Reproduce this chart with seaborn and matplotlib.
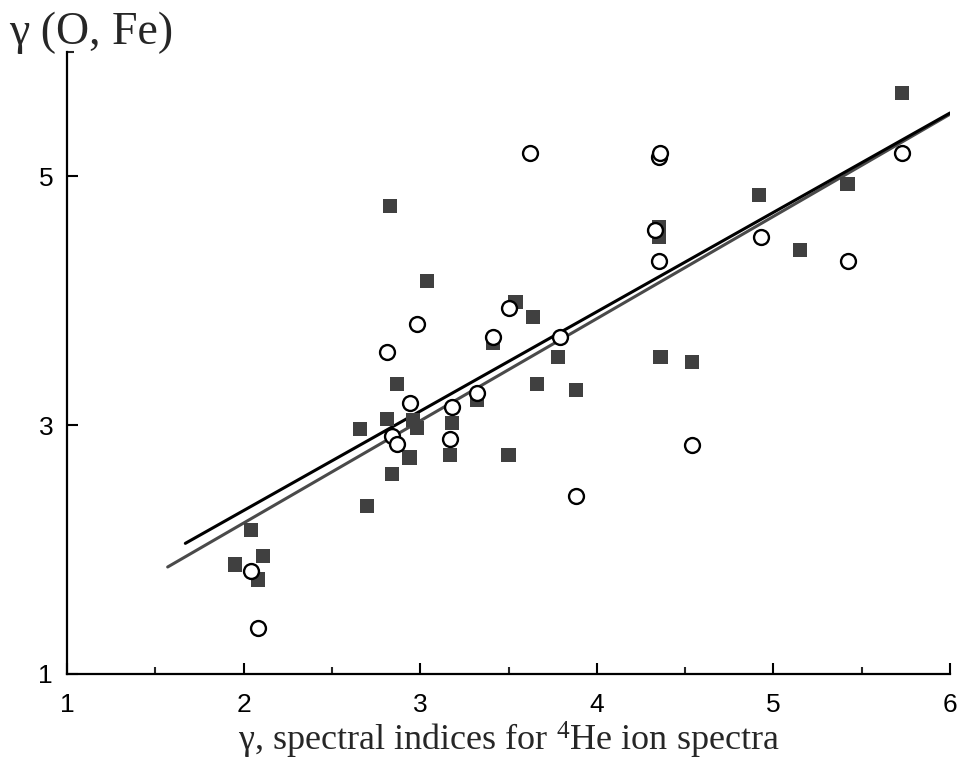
import matplotlib
matplotlib.use("Agg")
import matplotlib.pyplot as plt
import seaborn as sns
import pandas as pd
from matplotlib.ticker import FixedLocator

# --- data ---
sq_x = [1.95, 2.04, 2.11, 2.08, 2.83, 3.04, 2.66, 2.70, 2.81, 2.87, 2.84, 2.94,
        2.96, 2.98, 3.17, 3.18, 3.32, 3.41, 3.50, 3.54, 3.64, 3.66, 3.78, 3.88,
        4.35, 4.35, 4.36, 4.54, 4.92, 5.15, 5.42, 5.73]
sq_y = [1.88, 2.16, 1.95, 1.76, 4.76, 4.16, 2.97, 2.35, 3.05, 3.33, 2.61, 2.74,
        3.04, 2.98, 2.76, 3.02, 3.20, 3.66, 2.76, 3.99, 3.87, 3.33, 3.55, 3.28,
        4.59, 4.51, 3.55, 3.51, 4.85, 4.41, 4.94, 5.67]

ci_x = [2.04, 2.08, 3.50, 3.41, 3.79, 2.98, 2.81, 2.94, 3.18, 3.32, 2.84, 2.87,
        3.17, 3.88, 4.35, 4.36, 4.33, 4.35, 4.93, 5.42, 5.73, 4.54, 3.62]
ci_y = [1.83, 1.37, 3.94, 3.71, 3.71, 3.81, 3.59, 3.18, 3.15, 3.26, 2.91, 2.85,
        2.89, 2.43, 5.16, 5.19, 4.57, 4.32, 4.51, 4.32, 5.19, 2.84, 5.19]

fit1_x = [1.67, 6.0]   # black fit line
fit1_y = [2.05, 5.51]
fit2_x = [1.57, 6.0]   # gray fit line
fit2_y = [1.86, 5.50]

x_ticks = [1, 2, 3, 4, 5, 6]
y_ticks = [1, 3, 5]

sns.set_theme(style="ticks")
plt.rcParams['font.family'] = ['Liberation Sans', 'DejaVu Sans']
plt.rcParams['mathtext.fontset'] = 'custom'
plt.rcParams['mathtext.rm'] = 'Liberation Serif'

fig = plt.figure(figsize=(9.6, 7.65), dpi=100)
ax = fig.add_axes([0.0698, 0.119, 0.9198, 0.813])

sq = pd.DataFrame({"x": sq_x, "y": sq_y})
ci = pd.DataFrame({"x": ci_x, "y": ci_y})
f1 = pd.DataFrame({"x": fit1_x, "y": fit1_y})
f2 = pd.DataFrame({"x": fit2_x, "y": fit2_y})

sns.lineplot(data=f2, x="x", y="y", ax=ax, color="#4a4a4a", lw=2.2, zorder=2)
sns.lineplot(data=f1, x="x", y="y", ax=ax, color="#000000", lw=2.2, zorder=2)
sns.scatterplot(data=sq, x="x", y="y", ax=ax, marker="s", s=105, color="#404040",
                edgecolor="none", linewidth=0, zorder=3)
sns.scatterplot(data=ci, x="x", y="y", ax=ax, marker="o", s=115, facecolor="white",
                edgecolor="black", linewidth=1.7, zorder=4)

ax.set_xlim(1, 6)
ax.set_ylim(1, 6)
ax.set_xticks(x_ticks)
ax.set_yticks(y_ticks)
ax.xaxis.set_minor_locator(FixedLocator([1.5, 2.5, 3.5, 4.5, 5.5]))
ax.yaxis.set_minor_locator(FixedLocator([6]))
ax.tick_params(axis="both", which="major", direction="in", length=8, width=1.5,
               labelsize=19, colors="black")
ax.tick_params(axis="x", which="major", pad=14)
ax.tick_params(axis="y", which="major", pad=10)
ax.tick_params(axis="both", which="minor", direction="in", length=5, width=1.5)

for s in ["top", "right"]:
    ax.spines[s].set_visible(False)
for s in ["left", "bottom"]:
    ax.spines[s].set_linewidth(1.6)
    ax.spines[s].set_color("black")

ax.set_xlabel("γ, spectral indices for $\\mathregular{^{4}}$He ion spectra",
              fontsize=26, family="Liberation Serif", labelpad=2)
ax.set_ylabel("")
fig.text(0.009, 0.957, "γ (O, Fe)", fontsize=33, family="Liberation Serif",
         ha="left", va="center")

fig.savefig("out.png", dpi=100)
